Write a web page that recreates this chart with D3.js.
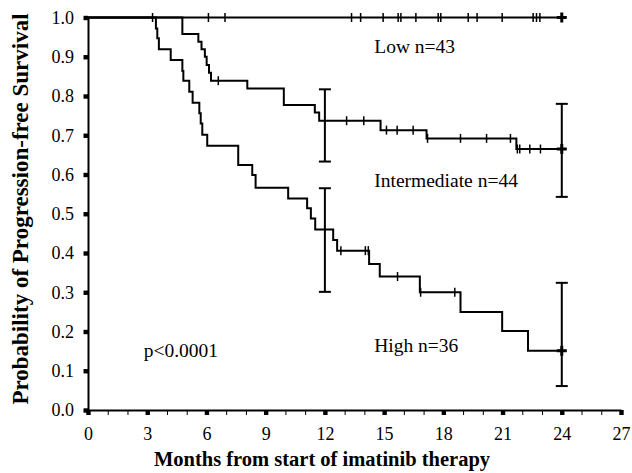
<!DOCTYPE html>
<html><head><meta charset="utf-8">
<script src="https://cdn.jsdelivr.net/npm/d3@7"></script>
<style>
body{margin:0;background:#fff;}
svg{display:block;font-family:"Liberation Serif","Times New Roman",serif;}
</style></head>
<body><svg id="c" width="632" height="473"></svg>
<script>
// ---- data ----
const xTicks = [0,3,6,9,12,15,18,21,24,27];
const yTicks = [0,0.1,0.2,0.3,0.4,0.5,0.6,0.7,0.8,0.9,1.0];

const lowTimes = [];
const lowSurv = [];
const lowCensor = [3.27,6.1,6.94,13.35,13.81,14.95,15.71,15.85,16.61,17.74,17.87,19.26,19.71,20.98,22.55,22.72,22.89,24];

const intTimes = [4.78,5.59,5.75,5.92,6.01,6.13,6.23,8.07,9.92,11.49,11.71,14.82,17.15,21.7];
const intSurv  = [0.958,0.938,0.919,0.900,0.879,0.859,0.839,0.819,0.777,0.758,0.737,0.713,0.692,0.665];
const intCensor = [6.6,13.1,13.97,15.12,15.66,16.47,17.2,18.87,20.19,21.4,21.75,21.87,22.38,22.92,24];
const intErr = [{t:12,lo:0.633,hi:0.817},{t:24,lo:0.543,hi:0.780}];

const highTimes = [3.44,3.51,3.59,4.19,4.78,4.83,5.13,5.3,5.64,5.71,5.79,6.04,7.61,8.32,8.49,10.14,11.1,11.29,11.51,12.42,12.62,14.24,14.78,16.81,18.87,20.98,22.29];
const highSurv  = [0.972,0.947,0.919,0.892,0.864,0.839,0.811,0.783,0.756,0.730,0.701,0.673,0.624,0.599,0.566,0.539,0.514,0.488,0.460,0.433,0.406,0.372,0.340,0.300,0.250,0.201,0.151];
const highCensor = [12.81,14.05,14.2,15.68,16.85,18.58,24];
const highErr = [{t:12,lo:0.301,hi:0.565},{t:24,lo:0.061,hi:0.324}];

const groupLabels = [
  {text:"Low n=43", t:14.5, s:0.91},
  {text:"Intermediate n=44", t:14.5, s:0.568},
  {text:"High n=36", t:14.5, s:0.148}
];
const pLabel = {text:"p<0.0001", t:2.82, s:0.135};
const xTitle = "Months from start of imatinib therapy";
const yTitle = "Probability of Progression-free Survival";

// ---- drawing ----
const svg = d3.select("#c");
const x = d3.scaleLinear().domain([0,27]).range([88,621]);
const y = d3.scaleLinear().domain([0,1]).range([410,17.5]);

function survAt(times, surv, t){
  let s = 1;
  for(let i=0;i<times.length;i++){ if(times[i] <= t + 1e-9) s = surv[i]; }
  return s;
}
function pts(times, surv, end){
  const p = [[0,1]];
  times.forEach((t,i)=>p.push([t,surv[i]]));
  p.push([end, surv.length? surv[surv.length-1] : 1]);
  return p;
}
const line = d3.line().x(d=>x(d[0])).y(d=>y(d[1])).curve(d3.curveStepAfter);

// axes
const xAxis = d3.axisBottom(x).tickValues(d3.range(0,28,1)).tickSize(5).tickSizeOuter(0).tickPadding(12)
  .tickFormat(d => xTicks.includes(d) ? String(d) : "");
const gx = svg.append("g").attr("transform","translate(0,410)").call(xAxis);
gx.select(".domain").attr("stroke","#000").attr("stroke-width",2);
gx.selectAll(".tick line").attr("stroke","#000").attr("stroke-width",1);
gx.selectAll("text").attr("font-size",18).attr("fill","#000").attr("font-family","Liberation Serif, Times New Roman, serif");
gx.selectAll(".tick").filter(d=>xTicks.includes(d)).append("rect")
  .attr("x",-2.2).attr("y",0).attr("width",4.4).attr("height",5).attr("fill","#000");

const yAxis = d3.axisLeft(y).tickValues(yTicks).tickSize(0).tickSizeOuter(0).tickPadding(14).tickFormat(d3.format(".1f"));
const gy = svg.append("g").attr("transform","translate(88,0)").call(yAxis);
gy.select(".domain").attr("stroke","#000").attr("stroke-width",2);
gy.selectAll("text").attr("font-size",18).attr("fill","#000").attr("font-family","Liberation Serif, Times New Roman, serif");
gy.selectAll(".tick").append("rect").attr("x",-4.5).attr("y",-2.2).attr("width",4.5).attr("height",4.4).attr("fill","#000");

// curves
const series = [
  {times:highTimes, surv:highSurv, censor:highCensor, err:highErr},
  {times:intTimes, surv:intSurv, censor:intCensor, err:intErr},
  {times:lowTimes, surv:lowSurv, censor:lowCensor, err:[]}
];
series.forEach(s=>{
  svg.append("path").datum(pts(s.times,s.surv,24)).attr("d",line)
    .attr("fill","none").attr("stroke","#000").attr("stroke-width",2);
  s.censor.forEach(t=>{
    const v = survAt(s.times,s.surv,t);
    const end = t >= 24;
    svg.append("line").attr("x1",x(t)).attr("x2",x(t)).attr("y1",y(v)-(end?5:4.5)).attr("y2",y(v)+(end?5:4.5))
      .attr("stroke","#000").attr("stroke-width",end?3:1.5);
    if(end){
      svg.append("line").attr("x1",x(t)-5).attr("x2",x(t)+5).attr("y1",y(v)).attr("y2",y(v))
        .attr("stroke","#000").attr("stroke-width",3);
    }
  });
  s.err.forEach(e=>{
    svg.append("line").attr("x1",x(e.t)).attr("x2",x(e.t)).attr("y1",y(e.lo)).attr("y2",y(e.hi))
      .attr("stroke","#000").attr("stroke-width",2);
    [e.lo,e.hi].forEach(v=>svg.append("line").attr("x1",x(e.t)-6).attr("x2",x(e.t)+6).attr("y1",y(v)).attr("y2",y(v))
      .attr("stroke","#000").attr("stroke-width",2));
  });
});

// labels
groupLabels.forEach(l=>{
  svg.append("text").attr("x",x(l.t)).attr("y",y(l.s)).attr("font-size",19.5).attr("fill","#000").text(l.text);
});
svg.append("text").attr("x",x(pLabel.t)).attr("y",y(pLabel.s)).attr("font-size",19.5).attr("fill","#000").text(pLabel.text);

svg.append("text").attr("x",322).attr("y",466).attr("text-anchor","middle").attr("font-size",20.5)
  .attr("font-weight","bold").attr("fill","#000").text(xTitle);
svg.append("text").attr("transform","translate(28,209) rotate(-90)").attr("text-anchor","middle").attr("font-size",23)
  .attr("font-weight","bold").attr("fill","#000").text(yTitle);
</script></body></html>
